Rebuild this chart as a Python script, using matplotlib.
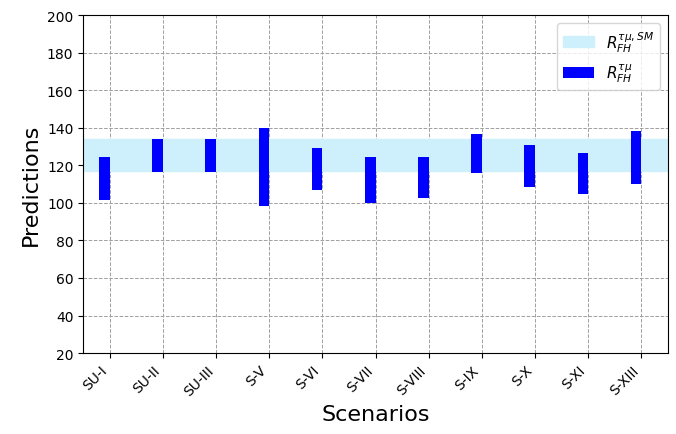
import matplotlib
matplotlib.use('Agg')
import matplotlib.pyplot as plt
import numpy as np

scenarios = ['SU-I', 'SU-II', 'SU-III', 'S-V', 'S-VI', 'S-VII', 'S-VIII',
             'S-IX', 'S-X', 'S-XI', 'S-XIII']
r_low = [101.6, 116.6, 116.6, 98.5, 107.1, 99.7, 102.5, 116.0, 108.4, 104.5, 110.2]
r_high = [124.4, 133.9, 133.9, 139.8, 129.2, 124.4, 124.4, 136.6, 130.8, 126.5, 138.2]
sm_low, sm_high = 117.1, 133.9

fig, ax = plt.subplots(figsize=(6.76, 4.35), dpi=100)
fig.subplots_adjust(left=0.123, right=0.988, top=0.963, bottom=0.186)

x = np.arange(len(scenarios))
ax.axhspan(sm_low, sm_high, color='#cdf0fc', label=r'$R_{FH}^{\tau\mu,SM}$', zorder=1)
heights = np.array(r_high) - np.array(r_low)
ax.bar(x - 0.2, heights, width=0.2, bottom=r_low, align='edge', color='blue',
       label=r'$R_{FH}^{\tau\mu}$', zorder=2)

ax.set_xlim(-0.5, len(scenarios) - 0.5)
ax.set_ylim(20, 200)
ax.set_yticks(np.arange(20, 201, 20))
ax.set_xticks(x)
ax.set_xticklabels(scenarios, rotation=45, ha='right', fontsize=10)
ax.tick_params(axis='y', labelsize=10)
ax.set_xlabel('Scenarios', fontsize=16)
ax.set_ylabel('Predictions', fontsize=16)
ax.grid(True, linestyle='--', color='#a0a0a0', linewidth=0.7, zorder=0)
ax.set_axisbelow(True)
ax.legend(loc='upper right', fontsize=11)

plt.savefig('out.png')
